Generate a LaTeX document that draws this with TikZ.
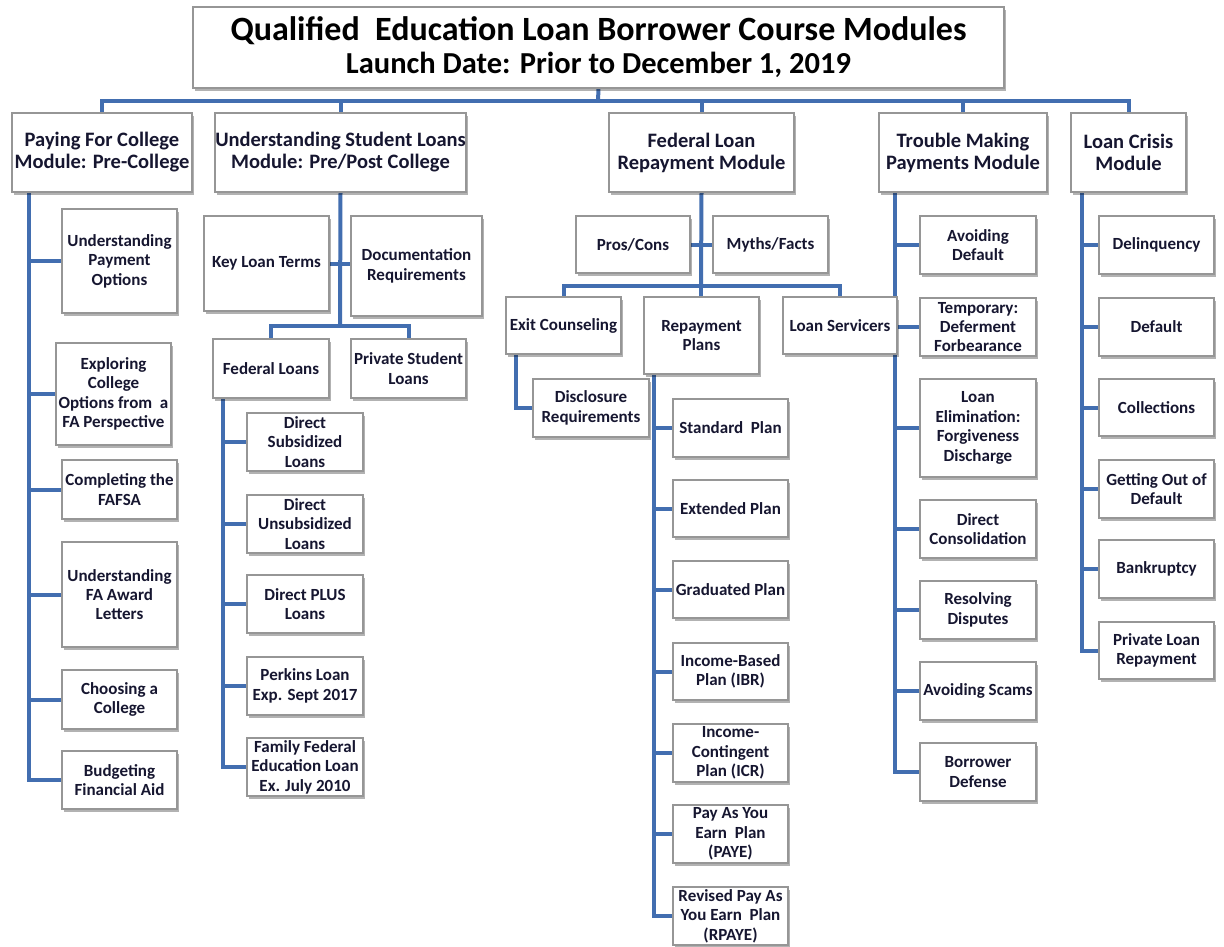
\documentclass[tikz,border=0pt]{standalone}
\usepackage{fontspec}
\setmainfont{Carlito}
\usetikzlibrary{shadows}
\definecolor{linkblue}{RGB}{66,110,176}
\definecolor{boxedge}{RGB}{150,150,150}
\definecolor{ink}{RGB}{22,22,48}
\pgfdeclarelayer{bg}
\pgfsetlayers{bg,main}
\tikzset{
  box/.style={draw=boxedge, line width=1.1pt, fill=white, align=center,
    inner sep=0pt, text=ink,
    drop shadow={shadow xshift=1.6pt, shadow yshift=-2.6pt, fill=black, opacity=0.3},
    font=\bfseries\fontsize{17}{19.4}\selectfont},
  modbox/.style={box, font=\bfseries\fontsize{20.5}{22}\selectfont},
  titlebox/.style={box, text=black, font=\bfseries\fontsize{34}{34}\selectfont},
  conn/.style={draw=linkblue, line width=4pt}
}
% \mybox[style]{name}{x1}{y1}{x2}{y2}{text}: box given by its corners
\newcommand\mybox[7][box]{%
  \pgfmathsetmacro\bw{#5-#3}\pgfmathsetmacro\bh{#6-#4}%
  \node[#1, minimum width=\bw pt, minimum height=\bh pt] (#2) at ({(#3+#5)/2},{(#4+#6)/2}) {#7};}
\begin{document}
\begin{tikzpicture}[x=1pt,y=-1pt]
\useasboundingbox (0,0) rectangle (1224,947);
\begin{pgfonlayer}{bg}
  \fill[white] (0,0) rectangle (1224,947);
\end{pgfonlayer}

% title
\mybox[titlebox]{title}{193}{7}{1004}{88}{Qualified~ Education Loan Borrower Course Modules\\[-1pt]{\fontsize{30.5}{33}\selectfont Launch Date: Prior to December 1, 2019}}

% modules
\mybox[modbox]{m1}{12}{113}{192}{192}{Paying For College\\Module: Pre-College}
\mybox[modbox]{m2}{215}{113}{466}{192}{Understanding Student Loans\\Module: Pre/Post College}
\mybox[modbox]{m3}{609}{113}{794}{192}{Federal Loan\\Repayment Module}
\mybox[modbox]{m4}{879}{113}{1047}{192}{Trouble Making\\Payments Module}
\mybox[modbox]{m5}{1071}{113}{1186}{192}{Loan Crisis\\Module}

% paying for college
\mybox{c1a}{62}{209}{177}{313}{Understanding\\Payment\\Options}
\mybox{c1b}{56}{343}{171}{445}{Exploring\\College\\Options from~ a\\FA Perspective}
\mybox{c1c}{62}{460}{177}{519}{Completing the\\FAFSA}
\mybox{c1d}{62}{542}{177}{647}{Understanding\\FA Award\\Letters}
\mybox{c1e}{62}{670}{177}{729}{Choosing a\\College}
\mybox{c1f}{62}{751}{177}{809}{Budgeting\\Financial Aid}

% understanding student loans
\mybox{klt}{204}{216}{329}{311}{Key Loan Terms}
\mybox{doc}{351}{216}{482}{316}{Documentation\\Requirements}
\mybox{fed}{213}{339}{329}{398}{Federal Loans}
\mybox{priv}{351}{339}{466}{398}{Private Student\\Loans}
\mybox{f1}{247}{413}{363}{471}{Direct\\Subsidized\\Loans}
\mybox{f2}{247}{495}{363}{553}{Direct\\Unsubsidized\\Loans}
\mybox{f3}{247}{575}{363}{633}{Direct PLUS\\Loans}
\mybox{f4}{247}{657}{363}{715}{Perkins Loan\\Exp. Sept 2017}
\mybox{f5}{247}{738}{363}{796}{Family Federal\\Education Loan\\Ex. July 2010}

% federal loan repayment
\mybox{pros}{576}{216}{690}{273}{Pros/Cons}
\mybox{myths}{713}{216}{828}{273}{Myths/Facts}
\mybox{exit}{506}{297}{621}{354}{Exit Counseling}
\mybox{rp}{644}{297}{759}{374}{Repayment\\Plans}
\mybox{serv}{783}{297}{897}{354}{Loan Servicers}
\mybox{disc}{533}{379}{649}{437}{Disclosure\\Requirements}
\mybox{r1}{673}{399}{788}{457}{Standard~ Plan}
\mybox{r2}{673}{480}{788}{537}{Extended Plan}
\mybox{r3}{673}{561}{788}{618}{Graduated Plan}
\mybox{r4}{673}{643}{788}{700}{Income-Based\\Plan (IBR)}
\mybox{r5}{673}{724}{788}{782}{Income-\\Contingent\\Plan (ICR)}
\mybox{r6}{673}{805}{788}{863}{Pay As You\\Earn~ Plan\\(PAYE)}
\mybox{r7}{673}{887}{788}{945}{Revised Pay As\\You Earn~ Plan\\(RPAYE)}

% trouble making payments
\mybox{d1}{920}{216}{1036}{274}{Avoiding\\Default}
\mybox{d2}{920}{298}{1036}{356}{Temporary:\\Deferment\\Forbearance}
\mybox{d3}{920}{379}{1036}{477}{Loan\\Elimination:\\Forgiveness\\Discharge}
\mybox{d4}{920}{500}{1036}{558}{Direct\\Consolidation}
\mybox{d5}{920}{581}{1036}{639}{Resolving\\Disputes}
\mybox{d6}{920}{662}{1036}{720}{Avoiding Scams}
\mybox{d7}{920}{743}{1036}{801}{Borrower\\Defense}

% loan crisis
\mybox{e1}{1099}{216}{1214}{274}{Delinquency}
\mybox{e2}{1099}{298}{1214}{356}{Default}
\mybox{e3}{1099}{379}{1214}{436}{Collections}
\mybox{e4}{1099}{460}{1214}{518}{Getting Out of\\Default}
\mybox{e5}{1099}{540}{1214}{598}{Bankruptcy}
\mybox{e6}{1099}{622}{1214}{679}{Private Loan\\Repayment}

% junction points and trunks
\coordinate (bus) at (598,101);
\coordinate (b2) at (340,326);
\coordinate (b3) at (701,286);
\coordinate (t1) at ([xshift=18pt]m1.south west);
\coordinate (t2) at ([xshift=11pt]fed.south west);
\coordinate (t3) at ([xshift=11pt]exit.south west);
\coordinate (t4) at ([xshift=11pt]rp.south west);
\coordinate (t5) at ([xshift=17pt]m4.south west);
\coordinate (t6) at ([xshift=12pt]m5.south west);

\begin{pgfonlayer}{bg}
  % top bus
  \draw[conn] (title.south) -- (bus);
  \draw[conn] (m1.north) |- (bus) -| (m5.north);
  \foreach \m in {m2,m3,m4} \draw[conn] (bus -| \m.north) -- (\m.north);
  % paying for college
  \draw[conn] (t1) |- (c1f.west);
  \foreach \c in {c1a,c1b,c1c,c1d,c1e} \draw[conn] (t1 |- \c.west) -- (\c.west);
  % understanding student loans
  \draw[conn] (m2.south) -- (b2);
  \draw[conn] (klt.east) -- (klt.east -| doc.west);
  \draw[conn] (fed.north) |- (b2) -| (priv.north);
  \draw[conn] (t2) |- (f5.west);
  \foreach \c in {f1,f2,f3,f4} \draw[conn] (t2 |- \c.west) -- (\c.west);
  % federal loan repayment
  \draw[conn] (m3.south) -- (b3);
  \draw[conn] (pros.east) -- (myths.west);
  \draw[conn] (exit.north) |- (b3) -| (serv.north);
  \draw[conn] (b3) -- (b3 |- rp.north);
  \draw[conn] (t3) |- (disc.west);
  \draw[conn] (t4) |- (r7.west);
  \foreach \c in {r1,r2,r3,r4,r5,r6} \draw[conn] (t4 |- \c.west) -- (\c.west);
  % trouble making payments
  \draw[conn] (t5) |- (d7.west);
  \foreach \c in {d1,d2,d3,d4,d5,d6} \draw[conn] (t5 |- \c.west) -- (\c.west);
  % loan crisis
  \draw[conn] (t6) |- (e6.west);
  \foreach \c in {e1,e2,e3,e4,e5} \draw[conn] (t6 |- \c.west) -- (\c.west);
\end{pgfonlayer}
\end{tikzpicture}
\end{document}
